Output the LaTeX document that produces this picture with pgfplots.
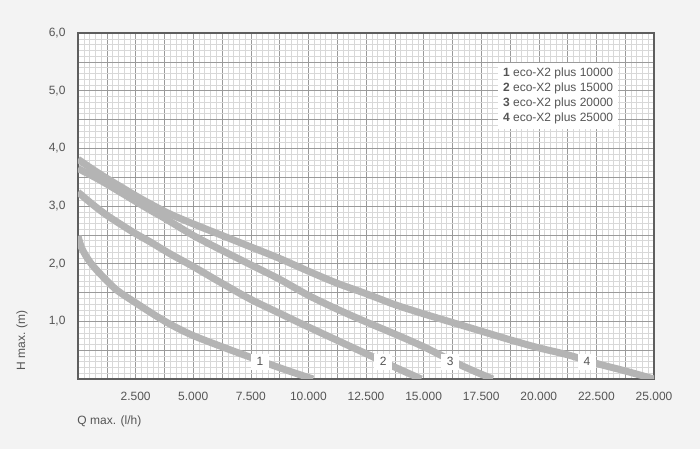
\documentclass[border=0pt]{standalone}
\usepackage{fontspec}
\setmainfont{Liberation Sans}
\usepackage{pgfplots}
\pgfplotsset{compat=1.18}
\definecolor{bg}{HTML}{F3F3F3}
\definecolor{txt}{HTML}{555555}
\definecolor{curve}{HTML}{B4B4B4}
\definecolor{majgrid}{HTML}{9A9A9A}
\definecolor{mingrid}{HTML}{D8D8D8}
\definecolor{frame}{HTML}{5E5E5E}
\begin{document}
\begin{tikzpicture}[x=1pt,y=1pt]
\fill[bg] (0,0) rectangle (700,449);
\begin{axis}[
  at={(78pt,70pt)}, anchor=south west,
  scale only axis, width=576pt, height=346pt,
  xmin=0, xmax=25000, ymin=0, ymax=6,
  scaled x ticks=false, scaled y ticks=false,
  axis background/.style={fill=white},
  xtick={0,1250,2500,3750,5000,6250,7500,8750,10000,11250,12500,13750,15000,16250,17500,18750,20000,21250,22500,23750,25000},
  xticklabels={{},{},2.500,{},5.000,{},7.500,{},10.000,{},12.500,{},15.000,{},17.500,{},20.000,{},22.500,{},25.000},
  ytick={0,0.5,1,1.5,2,2.5,3,3.5,4,4.5,5,5.5,6},
  yticklabels={{},{},{1,0},{},{2,0},{},{3,0},{},{4,0},{},{5,0},{},{6,0}},
  minor x tick num=4, minor y tick num=4,
  grid=both,
  major grid style={majgrid, line width=0.6pt},
  minor grid style={mingrid, line width=0.5pt},
  major tick length=0pt, minor tick length=0pt,
  axis line style={frame, line width=1.3pt},
  tick label style={font=\fontsize{12}{14}\selectfont, text=txt},
  xticklabel style={yshift=-10pt},
  yticklabel style={xshift=-9pt},
  label style={font=\fontsize{12}{14}\selectfont, text=txt},
  xlabel={Q max. (l/h)},
  xlabel style={at={(rel axis cs:-0.007,0)}, anchor=west, yshift=-42pt},
  ylabel={H max. (m)},
  ylabel style={at={(rel axis cs:-0.0972,0.0145)}, anchor=west},
]
\addplot[curve, line width=7pt, smooth, tension=0.5] coordinates {
(0,2.48) (150,2.28) (400,2.10) (740,1.92) (1600,1.57) (2470,1.33) (3775,1.00) (4900,0.77) (6310,0.55) (7600,0.36) (9000,0.16) (10200,0)
};
\addplot[curve, line width=7pt, smooth, tension=0.5] coordinates {
(0,3.24) (625,3.03) (1250,2.84) (1900,2.67) (2500,2.52) (3125,2.38) (4000,2.17) (5000,1.95) (6250,1.66) (7500,1.38) (8750,1.14) (9635,0.97) (11250,0.67) (12500,0.44) (13250,0.30) (14000,0.16) (14900,0)
};
\addplot[curve, line width=7pt, smooth, tension=0.5] coordinates {
(0,3.65) (625,3.52) (1250,3.38) (2500,3.08) (3125,2.93) (3750,2.79) (5000,2.49) (6250,2.23) (7500,1.98) (8750,1.73) (10000,1.45) (11250,1.21) (12500,0.99) (13750,0.78) (15000,0.56) (16150,0.33) (17000,0.17) (18000,0)
};
\addplot[curve, line width=7pt, smooth, tension=0.5] coordinates {
(0,3.81) (625,3.64) (1250,3.48) (2500,3.18) (3125,3.04) (4000,2.86) (5000,2.69) (6250,2.49) (7500,2.29) (8750,2.09) (10000,1.87) (11250,1.66) (12500,1.48) (13750,1.29) (15000,1.13) (16250,0.98) (17500,0.83) (18750,0.68) (20000,0.54) (21250,0.42) (22500,0.27) (23750,0.14) (25000,0)
};
\node[fill=white, text=txt, font=\fontsize{12}{14}\selectfont, minimum width=18pt, minimum height=16pt, inner sep=1pt] at (axis cs:7900,0.30) {1};
\node[fill=white, text=txt, font=\fontsize{12}{14}\selectfont, minimum width=18pt, minimum height=16pt, inner sep=1pt] at (axis cs:13250,0.30) {2};
\node[fill=white, text=txt, font=\fontsize{12}{14}\selectfont, minimum width=18pt, minimum height=16pt, inner sep=1pt] at (axis cs:16150,0.30) {3};
\node[fill=white, text=txt, font=\fontsize{12}{14}\selectfont, minimum width=18pt, minimum height=16pt, inner sep=1pt] at (axis cs:22090,0.30) {4};
\node[fill=white, text=txt, font=\fontsize{12}{14.7}\selectfont, anchor=north west, align=left, inner xsep=5pt, inner ysep=5pt] at (rel axis cs:0.729,0.913)
{\textbf{1} eco-X2 plus 10000\\\textbf{2} eco-X2 plus 15000\\\textbf{3} eco-X2 plus 20000\\\textbf{4} eco-X2 plus 25000};
\end{axis}
\end{tikzpicture}
\end{document}
